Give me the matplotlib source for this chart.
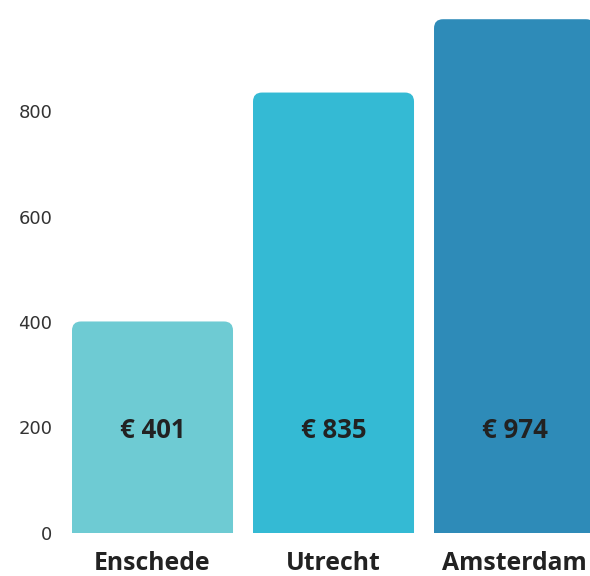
import matplotlib.pyplot as plt
from matplotlib.patches import FancyBboxPatch

# Data
cities = ['Enschede', 'Utrecht', 'Amsterdam']
rent = [401, 835, 974]
bar_colors = ['#6ECBD3', '#34BAD4', '#2E8BB8']
y_ticks = [0, 200, 400, 600, 800]

fig = plt.figure(figsize=(5.9, 5.76), dpi=100)
ax = fig.add_axes([62 / 590, 43 / 576, 528 / 590, 527.5 / 576])

ax.set_xlim(-0.5, 2.417)
ax.set_ylim(0, 1000)

width = 161 / 181
bars = ax.bar(range(len(cities)), rent, width=width, color='none')

# rounded tops: data units per pixel in x and y
px_x = (2.917) / 528
px_y = 1000 / 527.5
radius_px = 9
for bar, c in zip(bars, bar_colors):
    x0, w, h = bar.get_x(), bar.get_width(), bar.get_height()
    patch = FancyBboxPatch((x0, -50), w, h + 50,
                           boxstyle=f'round,pad=0,rounding_size={radius_px * px_x}',
                           mutation_aspect=px_y / px_x,
                           facecolor=c, edgecolor='none', clip_on=True)
    ax.add_patch(patch)

# value labels, all at the same height
label_y = min(rent) / 2
for i, v in enumerate(rent):
    ax.text(i, label_y, f'€ {v}', ha='center', va='center_baseline',
            fontsize=18.5, fontweight='bold', family='Open Sans', color='#222222')

ax.set_xticks(range(len(cities)))
ax.set_xticklabels(cities, fontsize=17.8, fontweight='bold', family='Open Sans', color='#222222')
ax.set_yticks(y_ticks)
ax.set_yticklabels([str(t) for t in y_ticks], fontsize=13, family='DejaVu Sans', color='#333333')
ax.tick_params(axis='both', length=0)
ax.tick_params(axis='x', pad=13)
ax.tick_params(axis='y', pad=7)

for s in ax.spines.values():
    s.set_visible(False)

fig.savefig('out.png', dpi=100)
